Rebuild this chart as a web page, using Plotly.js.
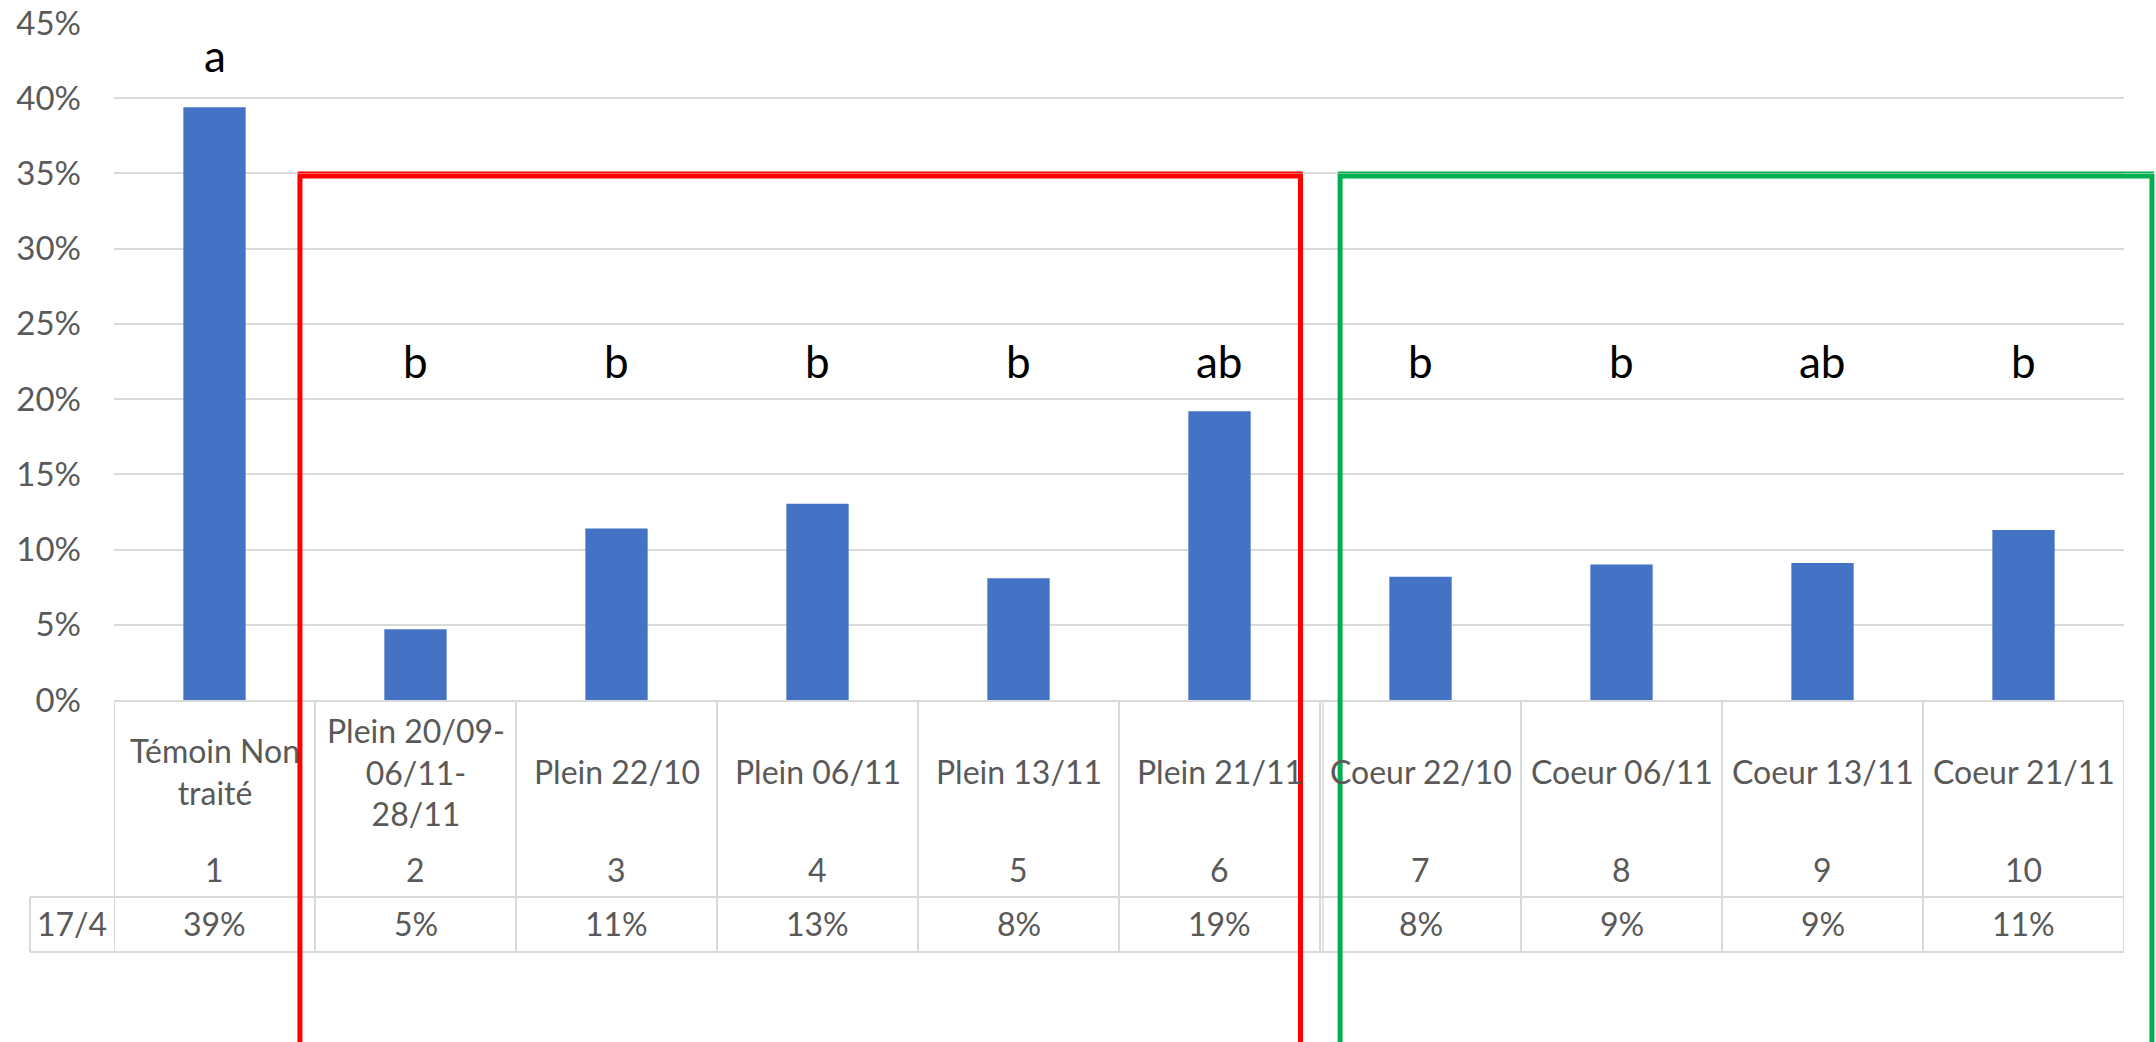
<!DOCTYPE html>
<html>
<head>
<meta charset="utf-8">
<script src="https://cdn.plot.ly/plotly-3.0.1.min.js"></script>
<style>
  html, body { margin: 0; padding: 0; background: #ffffff; }
  #chart { width: 2156px; height: 1042px; }
</style>
</head>
<body>
<div id="chart"></div>
<script>
// ---- Data ----
var treatmentNumbers = [1, 2, 3, 4, 5, 6, 7, 8, 9, 10];
var treatmentLabels = [
  'Témoin Non<br>traité',
  'Plein 20/09-<br>06/11-<br>28/11',
  'Plein 22/10',
  'Plein 06/11',
  'Plein 13/11',
  'Plein 21/11',
  'Coeur 22/10',
  'Coeur 06/11',
  'Coeur 13/11',
  'Coeur 21/11'
];
var values174 = [0.394, 0.047, 0.114, 0.1305, 0.081, 0.192, 0.082, 0.090, 0.091, 0.113];
var significanceLetters = ['a', 'b', 'b', 'b', 'b', 'ab', 'b', 'b', 'ab', 'b'];
var seriesName = '17/4';
var yTickValues = [0, 0.05, 0.10, 0.15, 0.20, 0.25, 0.30, 0.35, 0.40, 0.45];

// ---- Styles ----
var FONT = 'Lato, "Open Sans", sans-serif';
var GRAY_TEXT = '#595959';
var GRID = '#D9D9D9';
var BAR = '#4472C4';

// Vertical positions (paper units) for the data table drawn below the axis
var yLabelRow = -0.1063, yNumberRow = -0.2511, yRowSplit = -0.291, yValueRow = -0.3294, yTableBottom = -0.3722;
var xLegendCellLeft = -0.0418;

var trace = {
  type: 'bar',
  x: treatmentNumbers,
  y: values174,
  name: seriesName,
  width: 0.31,
  marker: { color: BAR },
  hoverinfo: 'skip'
};

var annotations = [];
var shapes = [];

// significance letters
var letterY = significanceLetters.map(function (l, i) { return i === 0 ? 0.9527 : 0.5007; });
significanceLetters.forEach(function (l, i) {
  annotations.push({
    x: treatmentNumbers[i], xref: 'x', y: letterY[i], yref: 'paper',
    text: l, showarrow: false, xanchor: 'center', yanchor: 'middle',
    font: { family: FONT, size: 44, color: '#000000' }
  });
});

// table texts
treatmentNumbers.forEach(function (n, i) {
  annotations.push({
    x: n, xref: 'x', y: yLabelRow, yref: 'paper', text: treatmentLabels[i],
    showarrow: false, xanchor: 'center', yanchor: 'middle', align: 'center',
    font: { family: FONT, size: 32, color: GRAY_TEXT }
  });
  annotations.push({
    x: n, xref: 'x', y: yNumberRow, yref: 'paper', text: String(n),
    showarrow: false, xanchor: 'center', yanchor: 'middle',
    font: { family: FONT, size: 32, color: GRAY_TEXT }
  });
  annotations.push({
    x: n, xref: 'x', y: yValueRow, yref: 'paper', text: Math.round(values174[i] * 100) + '%',
    showarrow: false, xanchor: 'center', yanchor: 'middle',
    font: { family: FONT, size: 32, color: GRAY_TEXT }
  });
});
annotations.push({
  x: xLegendCellLeft / 2, xref: 'paper', y: yValueRow, yref: 'paper', text: seriesName,
  showarrow: false, xanchor: 'center', yanchor: 'middle',
  font: { family: FONT, size: 32, color: GRAY_TEXT }
});

// table grid lines
var tableLine = { color: GRID, width: 2 };
for (var k = 0; k <= treatmentNumbers.length; k++) {
  shapes.push({
    type: 'line', xref: 'x', yref: 'paper',
    x0: treatmentNumbers[0] - 0.5 + k, x1: treatmentNumbers[0] - 0.5 + k,
    y0: 0, y1: yTableBottom, line: tableLine, layer: 'below'
  });
}
// doubled boundary between groups
shapes.push({
  type: 'line', xref: 'x', yref: 'paper', xsizemode: 'pixel', xanchor: 6.5,
  x0: 3, x1: 3, y0: 0, y1: yTableBottom, line: { color: GRID, width: 1.5 }, layer: 'below'
});
shapes.push({ type: 'line', xref: 'paper', yref: 'paper', x0: xLegendCellLeft, x1: 1, y0: yRowSplit, y1: yRowSplit, line: tableLine, layer: 'below' });
shapes.push({ type: 'line', xref: 'paper', yref: 'paper', x0: xLegendCellLeft, x1: 1, y0: yTableBottom, y1: yTableBottom, line: tableLine, layer: 'below' });
shapes.push({ type: 'line', xref: 'paper', yref: 'paper', x0: xLegendCellLeft, x1: xLegendCellLeft, y0: yRowSplit, y1: yTableBottom, line: tableLine, layer: 'below' });

// group frames (red: "Plein", green: "Coeur")
var RED = '#FF0000', GREEN = '#00B050';
function frame(x0, x1, color) {
  shapes.push({
    type: 'rect', xref: 'paper', yref: 'paper', x0: x0, x1: x1, y0: -0.62, y1: 0.774,
    line: { color: color, width: 5 }, fillcolor: 'rgba(0,0,0,0)', layer: 'above'
  });
  shapes.push({
    type: 'line', xref: 'paper', yref: 'paper', x0: x0 - 0.001, x1: x1 + 0.001, y0: 0.7795, y1: 0.7795,
    line: { color: color, width: 1.5 }, layer: 'above'
  });
}
frame(0.0925, 0.5903, RED);
frame(0.6100, 1.0139, GREEN);

var layout = {
  width: 2156,
  height: 1042,
  paper_bgcolor: '#ffffff',
  plot_bgcolor: '#ffffff',
  margin: { l: 114, r: 32, t: 23, b: 342, pad: 0 },
  showlegend: false,
  bargap: 0.69,
  xaxis: {
    range: [0.5, 10.5],
    showticklabels: false,
    showgrid: false,
    zeroline: false,
    showline: true,
    linecolor: GRID,
    linewidth: 2,
    ticks: '',
    fixedrange: true
  },
  yaxis: {
    range: [0, 0.45],
    tickvals: yTickValues,
    tickformat: '.0%',
    showgrid: true,
    gridcolor: GRID,
    gridwidth: 2,
    zeroline: false,
    showline: false,
    ticks: '',
    ticklabelstandoff: 32,
    tickfont: { family: FONT, size: 33, color: GRAY_TEXT },
    fixedrange: true
  },
  annotations: annotations,
  shapes: shapes,
  font: { family: FONT, color: GRAY_TEXT }
};

Plotly.newPlot('chart', [trace], layout, { staticPlot: true, displayModeBar: false });
</script>
</body>
</html>
